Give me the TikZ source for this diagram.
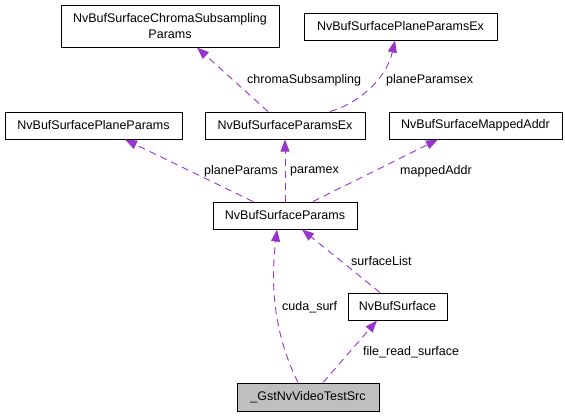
\documentclass[tikz,border=0pt]{standalone}
\usepackage{fontspec}
\setmainfont{Liberation Sans}
\usepackage{tikz}
\usetikzlibrary{arrows.meta}
\definecolor{edgepurple}{HTML}{9A32CD}
\definecolor{focusgray}{HTML}{BFBFBF}

\begin{document}
\begin{tikzpicture}
  [x=1pt,y=-1pt,
   every node/.style={font=\fontsize{12.5}{16}\selectfont,inner sep=0pt},
   cls/.style={draw=black,line width=1pt,fill=white,minimum height=27pt,align=center},
   lbl/.style={anchor=west},
   edge/.style={draw=edgepurple,line width=0.9pt,dash pattern=on 7pt off 5pt,
                -{Triangle[length=12pt,width=9pt]}}]

  \useasboundingbox (0,0) rectangle (565,416);

  \node[cls,minimum width=218pt,minimum height=42pt] (chroma) at (170,26) {NvBufSurfaceChromaSubsampling\\Params};
  \node[cls,minimum width=193pt] (planeex) at (400.5,26.5) {NvBufSurfacePlaneParamsEx};
  \node[cls,minimum width=177pt] (planep) at (93.5,125.5) {NvBufSurfacePlaneParams};
  \node[cls,minimum width=160pt] (paramsex) at (285,125.5) {NvBufSurfaceParamsEx};
  \node[cls,minimum width=173pt] (mapped) at (475.5,125.5) {NvBufSurfaceMappedAddr};
  \node[cls,minimum width=144pt] (params) at (285,215.5) {NvBufSurfaceParams};
  \node[cls,minimum width=99pt] (surface) at (397.5,306.5) {NvBufSurface};
  \node[cls,minimum width=142pt,minimum height=28pt,fill=focusgray] (gst) at (308,397) {\_GstNvVideoTestSrc};

  \foreach \from/\fs/\to/\ts in {paramsex/-17/chroma/27,params/-32/planep/31.5,
                                 params/0/paramsex/0,params/28/mapped/-37.5,
                                 surface/-17.5/params/17,gst/15/surface/-20.5}
    \draw[edge] ([xshift=\fs pt]\from.north) -- ([xshift=\ts pt]\to.south);
  \draw[edge] ([xshift=45pt]paramsex.north) .. controls (357,104) and (386,80) .. ([xshift=-5.5pt]planeex.south);
  \draw[edge] ([xshift=-10pt]gst.north) .. controls (272,330) and (271,280) .. ([xshift=-8pt]params.south);

  \node[lbl] (lchroma) at (247,80) {chromaSubsampling};
  \node[lbl] (lplaneex) at (386,80) {planeParamsex};
  \node[lbl] (lplanep) at (204,171) {planeParams};
  \node[lbl] (lparamex) at (290,171) {paramex};
  \node[lbl] (lmapped) at (400,171) {mappedAddr};
  \node[lbl] (lsurflist) at (351,261) {surfaceList};
  \node[lbl] (lcuda) at (282,307) {cuda\_surf};
  \node[lbl] (lfile) at (363,352) {file\_read\_surface};
\end{tikzpicture}
\end{document}
